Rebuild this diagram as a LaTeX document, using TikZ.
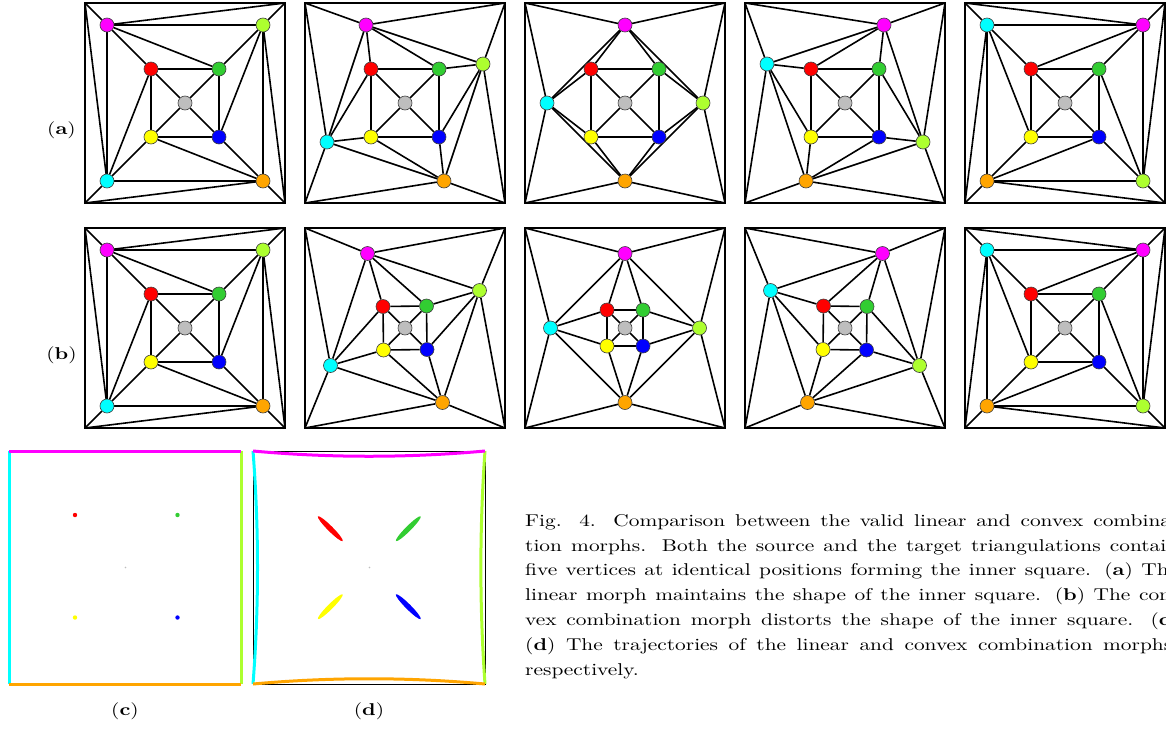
\documentclass[tikz,border=0pt]{standalone}
\usepackage{graphicx}
\usepackage{fontspec}
\usetikzlibrary{backgrounds}
\newfontfamily\capfont{lmroman10-regular.otf}[BoldFont=lmroman10-bold.otf]

\definecolor{vmg}{RGB}{255,0,255}
\definecolor{vlm}{RGB}{173,255,47}
\definecolor{vrd}{RGB}{255,0,0}
\definecolor{vgn}{RGB}{50,205,50}
\definecolor{vgy}{RGB}{190,190,190}
\definecolor{vye}{RGB}{255,255,0}
\definecolor{vbu}{RGB}{0,0,255}
\definecolor{vcy}{RGB}{0,255,255}
\definecolor{vor}{RGB}{255,165,0}

\tikzset{
  vtx/.style={circle, draw=black!75, line width=0.6pt, minimum size=14pt, inner sep=0pt},
  link/.style={line width=1.6pt},
  panelbox/.style={line width=1.5pt},
  trace/.style={line width=3pt},
  lbl/.style={font={\capfont\fontsize{17.1}{24.8}\selectfont}, inner sep=0pt}
}

% wide set text, as in the caption
\newcommand{\wide}[1]{\scalebox{1.25}[1]{#1}}
\newcommand{\capline}[1]{\wide{\makebox[522.4pt][s]{#1}}}

% one triangulation: #1 name, #2 top left corner, #3 vertex positions
\newcommand{\morphpanel}[3]{%
  \begin{scope}[shift={#2}]
    \coordinate (#1-nw) at (0,0);
    \coordinate (#1-ne) at (200,0);
    \coordinate (#1-se) at (200,200);
    \coordinate (#1-sw) at (0,200);
    \foreach \c/\x/\y in {#3}
      \node[vtx, fill=v\c] (#1-\c) at (\x,\y) {};
    \begin{pgfonlayer}{background}
      \draw[panelbox] (#1-nw) rectangle (#1-se);
      \foreach \u/\v in {nw/mg, ne/lm, se/or, sw/cy, ne/mg, se/lm, sw/or, nw/cy,
          mg/lm, lm/or, or/cy, cy/mg, mg/rd, mg/gn, lm/gn, lm/bu, or/bu, or/ye,
          cy/ye, cy/rd, rd/gn, gn/bu, bu/ye, ye/rd, gy/rd, gy/gn, gy/bu, gy/ye}
        \draw[link] (#1-\u) -- (#1-\v);
    \end{pgfonlayer}
  \end{scope}}

\begin{document}
\begin{tikzpicture}[x=1pt, y=-1pt]
  \begin{pgfonlayer}{background}
    \fill[white] (0,0) rectangle (1166,731);
  \end{pgfonlayer}
  \useasboundingbox (0,0) rectangle (1166,731);

  % (a) linear morph
  \morphpanel{a1}{(85,3)}{mg/22/22, lm/178/22, or/178/178, cy/22/178,
    rd/66/66, gn/134/66, bu/134/134, ye/66/134, gy/100/100}
  \morphpanel{a2}{(305,3)}{mg/61/22, lm/178/61, or/139/178, cy/22/139,
    rd/66/66, gn/134/66, bu/134/134, ye/66/134, gy/100/100}
  \morphpanel{a3}{(525,3)}{mg/100/22, lm/178/100, or/100/178, cy/22/100,
    rd/66/66, gn/134/66, bu/134/134, ye/66/134, gy/100/100}
  \morphpanel{a4}{(745,3)}{mg/139/22, lm/178/139, or/61/178, cy/22/61,
    rd/66/66, gn/134/66, bu/134/134, ye/66/134, gy/100/100}
  \morphpanel{a5}{(965,3)}{mg/178/22, lm/178/178, or/22/178, cy/22/22,
    rd/66/66, gn/134/66, bu/134/134, ye/66/134, gy/100/100}

  % (b) convex combination morph
  \morphpanel{b1}{(85,228)}{mg/22/22, lm/178/22, or/178/178, cy/22/178,
    rd/66/66, gn/134/66, bu/134/134, ye/66/134, gy/100/100}
  \morphpanel{b2}{(305,228)}{mg/62.5/25.5, lm/174.5/62.5, or/137.5/174.5, cy/25.5/137.5,
    rd/78/78.5, gn/121.5/78, bu/122/121.5, ye/78.5/122, gy/100/100}
  \morphpanel{b3}{(525,228)}{mg/100/25.5, lm/174.5/100, or/100/174.5, cy/25.5/100,
    rd/82/82, gn/118/82, bu/118/118, ye/82/118, gy/100/100}
  \morphpanel{b4}{(745,228)}{mg/137.5/25.5, lm/174.5/137.5, or/62.5/174.5, cy/25.5/62.5,
    rd/78.5/78, gn/122/78.5, bu/121.5/122, ye/78/121.5, gy/100/100}
  \morphpanel{b5}{(965,228)}{mg/178/22, lm/178/178, or/22/178, cy/22/22,
    rd/66/66, gn/134/66, bu/134/134, ye/66/134, gy/100/100}

  \node[lbl] (la) at (61.5,130) {\wide{(\textbf{a})}};
  \node[lbl] (lb) at (61.5,355) {\wide{(\textbf{b})}};

  % (c) linear trajectories
  \draw[trace, vcy] (9,451) -- (9,684);
  \draw[trace, vlm] (241,451) -- (241,684);
  \draw[trace, vmg] (9,451) -- (241,451);
  \draw[trace, vor] (9,684) -- (241,684);
  \fill[vrd] (75,515) circle (2.2);
  \fill[vgn] (177.5,515) circle (2.2);
  \fill[vye] (75,617.5) circle (2.2);
  \fill[vbu] (177.5,617.5) circle (2.2);
  \fill[vgy] (125.5,567.5) circle (0.8);
  \node[lbl] (lc) at (125,711) {\wide{(\textbf{c})}};

  % (d) convex combination trajectories
  \draw[line width=0.8pt] (253,451) rectangle (485,684);
  \draw[trace, vcy] (253,451) .. controls (259,528) and (259,607) .. (253,684);
  \draw[trace, vlm] (485,451) .. controls (479.5,528) and (479.5,607) .. (485,684);
  \draw[trace, vmg] (253,451) .. controls (330,458) and (408,458) .. (485,451);
  \draw[trace, vor] (253,684) .. controls (330,677) and (408,677) .. (485,684);
  \fill[vrd, shift={(330.3,528.7)}, rotate=-45] (0,0) ellipse [x radius=17.5pt, y radius=2.6pt];
  \fill[vgn, shift={(408.3,528.7)}, rotate=45] (0,0) ellipse [x radius=17.5pt, y radius=2.6pt];
  \fill[vye, shift={(330.3,606.7)}, rotate=45] (0,0) ellipse [x radius=17.5pt, y radius=2.6pt];
  \fill[vbu, shift={(408.3,606.7)}, rotate=-45] (0,0) ellipse [x radius=17.5pt, y radius=2.6pt];
  \fill[vgy] (369.5,567.5) circle (0.8);
  \node[lbl] (ld) at (369,711) {\wide{(\textbf{d})}};

  \node[lbl, anchor=north west, align=left] (cap) at (525,514.1) {%
    \capline{Fig. 4. Comparison between the valid linear and convex combina-}\\
    \capline{tion morphs. Both the source and the target triangulations contain}\\
    \capline{five vertices at identical positions forming the inner square. (\textbf{a}) The}\\
    \capline{linear morph maintains the shape of the inner square. (\textbf{b}) The con-}\\
    \capline{vex combination morph distorts the shape of the inner square. (\textbf{c})}\\
    \capline{(\textbf{d}) The trajectories of the linear and convex combination morphs,}\\
    \wide{respectively.}};
\end{tikzpicture}
\end{document}
